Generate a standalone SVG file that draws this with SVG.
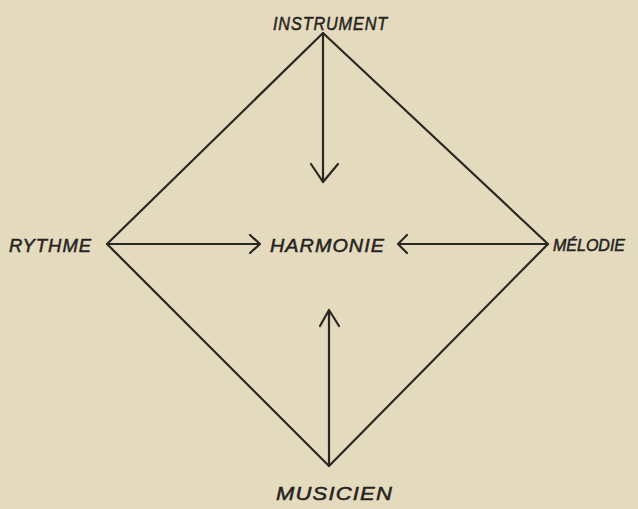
<svg xmlns="http://www.w3.org/2000/svg" width="638" height="509" viewBox="0 0 638 509">
<style>
.ln{stroke:#2b2822;stroke-width:2.2;fill:none;stroke-linecap:round;stroke-linejoin:round}
.lb{font-family:"Liberation Sans",Arial,sans-serif;font-style:italic;font-size:19px;fill:#26231e;stroke:#26231e;stroke-width:0.5;letter-spacing:1px}
.sm{font-size:16px;letter-spacing:0}
</style>
<rect width="638" height="509" fill="#e4dabd"/>
<g id="connectors">
<path class="ln" d="M323,33 L107,244 L329,466 L548,244 Z"/>
<path class="ln" d="M323,33 L323,182 M311,164 L323,182 L338,164"/>
<path class="ln" d="M107,244 L260,244 M250,235 L260,244 L250,253"/>
<path class="ln" d="M548,244 L398,244 M407,235 L398,244 L407,253"/>
<path class="ln" d="M329,466 L329,310 M320,326 L329,310 L339,326"/>
</g>
<g id="instrument"><text class="lb" x="273" y="30" textLength="115" lengthAdjust="spacingAndGlyphs">INSTRUMENT</text></g>
<g id="rythme"><text class="lb" x="9" y="252" textLength="83" lengthAdjust="spacingAndGlyphs">RYTHME</text></g>
<g id="harmonie"><text class="lb" x="270" y="252" textLength="115" lengthAdjust="spacingAndGlyphs">HARMONIE</text></g>
<g id="melodie"><text class="lb sm" x="553" y="251">MÉLODIE</text></g>
<g id="musicien"><text class="lb" x="276" y="500" textLength="117" lengthAdjust="spacingAndGlyphs">MUSICIEN</text></g>
</svg>
